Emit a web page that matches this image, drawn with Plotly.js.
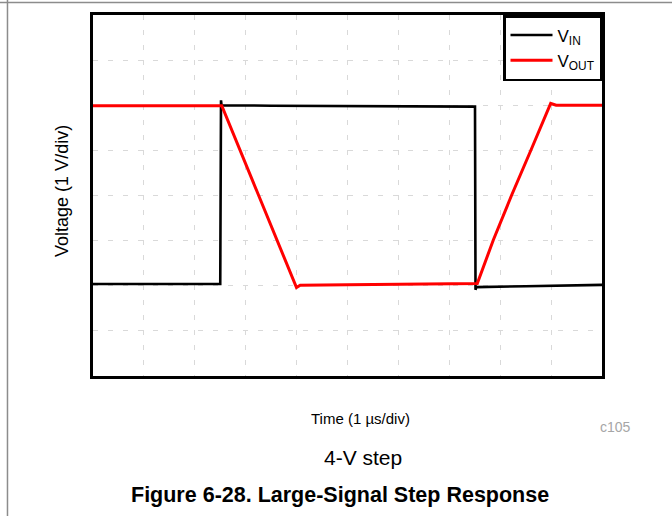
<!DOCTYPE html>
<html>
<head>
<meta charset="utf-8">
<script src="https://cdn.plot.ly/plotly-3.0.1.min.js"></script>
<style>
  html, body { margin: 0; padding: 0; background: #fff; }
  #chart { width: 672px; height: 516px; }
</style>
</head>
<body>
<div id="chart"></div>
<script>
// Time axis in microseconds (1 µs/div), voltage in volts (1 V/div)
const vinTime  = [0, 2.50, 2.515, 2.525, 3.5, 5.0, 6.5, 7.505, 7.515, 7.53, 8.5, 10];
const vinVolts = [-1.96, -1.96, 2.11, 2.00, 1.99, 1.98, 1.97, 1.97, -2.09, -2.03, -2.01, -1.98];

const voutTime  = [0, 2.53, 3.998, 4.07, 5.0, 6.5, 7.55, 7.865, 8.226, 8.605, 8.992, 9.1, 10];
const voutVolts = [1.99, 1.99, -2.04, -1.99, -1.98, -1.97, -1.95, -0.986, 0.011, 1.008, 2.04, 2.0, 2.0];

const seriesNames = ['V<sub>IN</sub>', 'V<sub>OUT</sub>'];

const xTicks = [0, 1, 2, 3, 4, 5, 6, 7, 8, 9, 10];
const yTicks = [-4, -3, -2, -1, 0, 1, 2, 3, 4];

const font = 'Liberation Sans, Arial, Helvetica, sans-serif';

const traces = [
  { x: vinTime, y: vinVolts, name: seriesNames[0], mode: 'lines',
    line: { color: '#000000', width: 2.6 } },
  { x: voutTime, y: voutVolts, name: seriesNames[1], mode: 'lines',
    line: { color: '#ff0000', width: 3 } }
];

const axisCommon = {
  showline: true, mirror: true, linecolor: '#000', linewidth: 3,
  showgrid: true, gridcolor: '#d9d9d9', gridwidth: 1, griddash: '5px,10px',
  zeroline: false, showticklabels: false, ticks: '', fixedrange: true
};

const layout = {
  width: 672, height: 516,
  margin: { l: 93, r: 70, t: 15, b: 140 },
  paper_bgcolor: '#fff', plot_bgcolor: '#fff',
  font: { family: font, color: '#000' },
  xaxis: Object.assign({}, axisCommon, { range: [0, 10], tickvals: xTicks }),
  yaxis: Object.assign({}, axisCommon, { range: [-4, 4], tickvals: yTicks }),
  showlegend: true,
  legend: {
    x: 1, y: 1, xanchor: 'right', yanchor: 'top',
    bgcolor: '#fff', bordercolor: '#000', borderwidth: 2.5,
    font: { family: font, size: 17, color: '#000' },
    tracegroupgap: 0, itemwidth: 42
  },
  annotations: [
    { text: 'Voltage (1 V/div)', xref: 'paper', yref: 'paper', x: -0.061, y: 0.5125,
      textangle: -90, showarrow: false, xanchor: 'center', yanchor: 'middle',
      font: { family: font, size: 18, color: '#000' } },
    { text: 'Time (1 µs/div)', xref: 'paper', yref: 'paper', x: 0.5246, y: -0.119,
      showarrow: false, xanchor: 'center', yanchor: 'middle',
      font: { family: font, size: 15, color: '#000' } },
    { text: 'c105', xref: 'paper', yref: 'paper', x: 1.0275, y: -0.1413,
      showarrow: false, xanchor: 'center', yanchor: 'middle',
      font: { family: font, size: 14, color: '#a6a6a6' } },
    { text: '4-V step', xref: 'paper', yref: 'paper', x: 0.531, y: -0.2244,
      showarrow: false, xanchor: 'center', yanchor: 'middle',
      font: { family: font, size: 21, color: '#000' } },
    { text: '<b>Figure 6-28. Large-Signal Step Response</b>', xref: 'paper', yref: 'paper',
      x: 0.4843, y: -0.3296, showarrow: false, xanchor: 'center', yanchor: 'middle',
      font: { family: font, size: 21.5, color: '#000' } }
  ],
  shapes: [
    { type: 'line', xref: 'paper', yref: 'paper', x0: -0.19, x1: 1.15, y0: 1.0346, y1: 1.0346,
      line: { color: '#8c8c8c', width: 1.5 } },
    { type: 'line', xref: 'paper', yref: 'paper', x0: -0.168, x1: -0.168, y0: -0.40, y1: 1.05,
      line: { color: '#8c8c8c', width: 1.5 } }
  ]
};

Plotly.newPlot('chart', traces, layout, { displayModeBar: false, staticPlot: true });
</script>
</body>
</html>
